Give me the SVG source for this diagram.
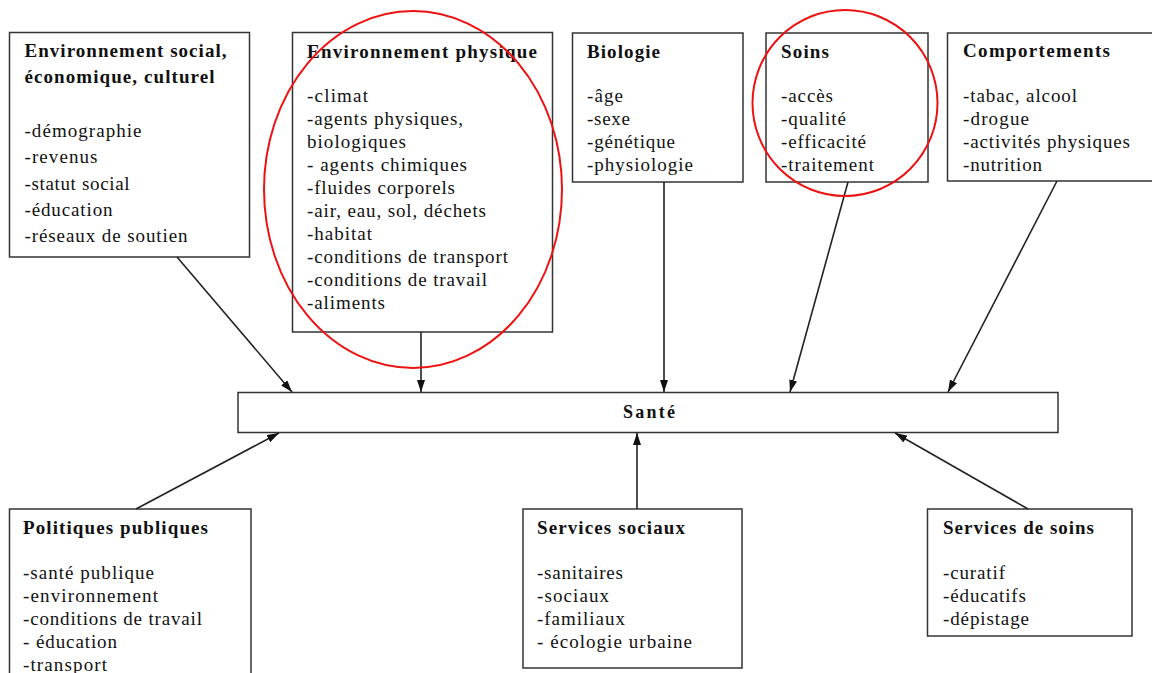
<svg xmlns="http://www.w3.org/2000/svg" width="1152" height="673" viewBox="0 0 1152 673">
<style>
.box{fill:#fff;stroke:#333;stroke-width:1.5}
text{font-family:"Liberation Serif","Times New Roman",serif;font-size:19px;fill:#111}
.t{font-weight:bold}
.c{fill:none;stroke:#222;stroke-width:1.6}
.red{fill:none;stroke:#ee1111;stroke-width:2}
</style>
<defs>
<marker id="ah" viewBox="0 0 12 8" refX="12" refY="4" markerWidth="12" markerHeight="8" markerUnits="userSpaceOnUse" orient="auto">
<path d="M0,0 L12,4 L0,8 z" fill="#111"/>
</marker>
</defs>
<rect width="1152" height="673" fill="#fff"/>

<g id="env-social">
<rect class="box" x="9.5" y="32.5" width="240" height="224.5"/>
<text class="t" x="24.5" y="57" textLength="202" lengthAdjust="spacing">Environnement social,</text>
<text class="t" x="24.5" y="83" textLength="190" lengthAdjust="spacing">économique, culturel</text>
<text x="24.5" y="137" textLength="117" lengthAdjust="spacing">-démographie</text>
<text x="24.5" y="163" textLength="73" lengthAdjust="spacing">-revenus</text>
<text x="24.5" y="190" textLength="105" lengthAdjust="spacing">-statut social</text>
<text x="24.5" y="216" textLength="88" lengthAdjust="spacing">-éducation</text>
<text x="24.5" y="242" textLength="163" lengthAdjust="spacing">-réseaux de soutien</text>
</g>

<g id="env-physique">
<rect class="box" x="292.5" y="32.5" width="260" height="299.5"/>
<text class="t" x="307" y="58" textLength="230" lengthAdjust="spacing">Environnement physique</text>
<text x="307" y="102" textLength="61" lengthAdjust="spacing">-climat</text>
<text x="307" y="125" textLength="156" lengthAdjust="spacing">-agents physiques,</text>
<text x="307" y="148" textLength="99" lengthAdjust="spacing">biologiques</text>
<text x="307" y="171" textLength="160" lengthAdjust="spacing">- agents chimiques</text>
<text x="307" y="194" textLength="148" lengthAdjust="spacing">-fluides corporels</text>
<text x="307" y="217" textLength="179" lengthAdjust="spacing">-air, eau, sol, déchets</text>
<text x="307" y="240" textLength="65" lengthAdjust="spacing">-habitat</text>
<text x="307" y="263" textLength="201" lengthAdjust="spacing">-conditions de transport</text>
<text x="307" y="286" textLength="180" lengthAdjust="spacing">-conditions de travail</text>
<text x="307" y="309" textLength="78" lengthAdjust="spacing">-aliments</text>
</g>

<g id="biologie">
<rect class="box" x="572.5" y="33" width="170.5" height="149"/>
<text class="t" x="587" y="58" textLength="73" lengthAdjust="spacing">Biologie</text>
<text x="587" y="102" textLength="36" lengthAdjust="spacing">-âge</text>
<text x="587" y="125" textLength="43" lengthAdjust="spacing">-sexe</text>
<text x="587" y="148" textLength="88" lengthAdjust="spacing">-génétique</text>
<text x="587" y="171" textLength="106" lengthAdjust="spacing">-physiologie</text>
</g>

<g id="soins">
<rect class="box" x="766" y="33" width="162" height="149"/>
<text class="t" x="781" y="58" textLength="48" lengthAdjust="spacing">Soins</text>
<text x="781" y="102" textLength="52" lengthAdjust="spacing">-accès</text>
<text x="781" y="125" textLength="65" lengthAdjust="spacing">-qualité</text>
<text x="781" y="148" textLength="85" lengthAdjust="spacing">-efficacité</text>
<text x="781" y="171" textLength="93" lengthAdjust="spacing">-traitement</text>
</g>

<g id="comportements">
<rect class="box" x="947.5" y="33" width="230" height="148"/>
<text class="t" x="963" y="57" textLength="147" lengthAdjust="spacing">Comportements</text>
<text x="963" y="102" textLength="114" lengthAdjust="spacing">-tabac, alcool</text>
<text x="963" y="125" textLength="66" lengthAdjust="spacing">-drogue</text>
<text x="963" y="148" textLength="167" lengthAdjust="spacing">-activités physiques</text>
<text x="963" y="171" textLength="79" lengthAdjust="spacing">-nutrition</text>
</g>

<g id="sante">
<rect class="box" x="238" y="392.5" width="820" height="40"/>
<text class="t" x="649" y="418" text-anchor="middle" textLength="52" lengthAdjust="spacing" style="font-size:18px">Santé</text>
</g>

<g id="politiques">
<rect class="box" x="9.5" y="509" width="241.5" height="180"/>
<text class="t" x="23" y="534" textLength="185" lengthAdjust="spacing">Politiques publiques</text>
<text x="23" y="579" textLength="131" lengthAdjust="spacing">-santé publique</text>
<text x="23" y="602" textLength="135" lengthAdjust="spacing">-environnement</text>
<text x="23" y="625" textLength="179" lengthAdjust="spacing">-conditions de travail</text>
<text x="23" y="648" textLength="94" lengthAdjust="spacing">- éducation</text>
<text x="23" y="671" textLength="84" lengthAdjust="spacing">-transport</text>
</g>

<g id="services-sociaux">
<rect class="box" x="523" y="509" width="219" height="159"/>
<text class="t" x="537" y="534" textLength="148" lengthAdjust="spacing">Services sociaux</text>
<text x="537" y="579" textLength="86" lengthAdjust="spacing">-sanitaires</text>
<text x="537" y="602" textLength="72" lengthAdjust="spacing">-sociaux</text>
<text x="537" y="625" textLength="88" lengthAdjust="spacing">-familiaux</text>
<text x="537" y="648" textLength="155" lengthAdjust="spacing">- écologie urbaine</text>
</g>

<g id="services-soins">
<rect class="box" x="927.5" y="509" width="204.5" height="127"/>
<text class="t" x="943" y="534" textLength="151" lengthAdjust="spacing">Services de soins</text>
<text x="943" y="579" textLength="62" lengthAdjust="spacing">-curatif</text>
<text x="943" y="602" textLength="83" lengthAdjust="spacing">-éducatifs</text>
<text x="943" y="625" textLength="86" lengthAdjust="spacing">-dépistage</text>
</g>

<g id="connectors">
<line class="c" x1="177" y1="257" x2="292" y2="392" marker-end="url(#ah)"/>
<line class="c" x1="421" y1="332" x2="421" y2="392" marker-end="url(#ah)"/>
<line class="c" x1="664" y1="182" x2="664" y2="392" marker-end="url(#ah)"/>
<line class="c" x1="848" y1="182" x2="790" y2="392" marker-end="url(#ah)"/>
<line class="c" x1="1057" y1="181" x2="948" y2="392" marker-end="url(#ah)"/>
<line class="c" x1="136" y1="509" x2="279" y2="433" marker-end="url(#ah)"/>
<line class="c" x1="637" y1="509" x2="637" y2="433" marker-end="url(#ah)"/>
<line class="c" x1="1028" y1="509" x2="895" y2="433" marker-end="url(#ah)"/>
</g>

<g id="highlights">
<ellipse class="red" cx="413" cy="189.5" rx="149" ry="178.5"/>
<ellipse class="red" cx="845" cy="103" rx="92.5" ry="93"/>
</g>
</svg>
